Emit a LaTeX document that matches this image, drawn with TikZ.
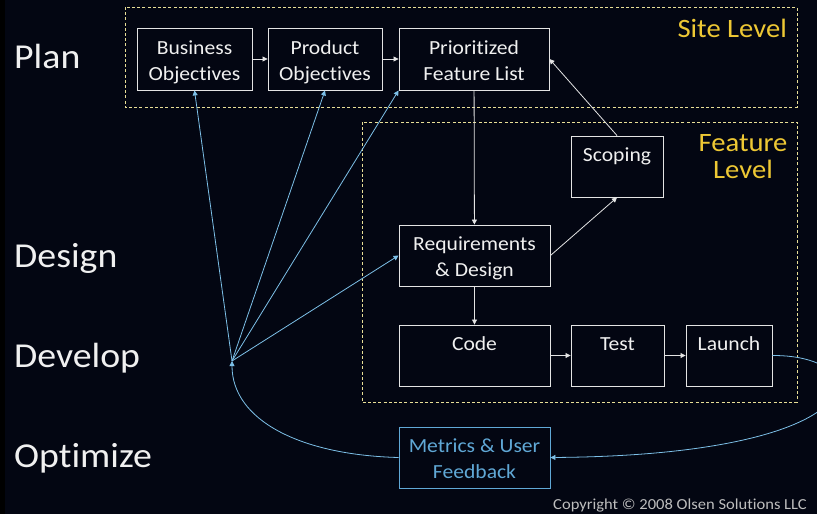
\documentclass[tikz,border=0pt]{standalone}
\usepackage{fontspec}
\setmainfont{Carlito}[Ligatures={NoCommon}, FakeStretch=1.08]
\usepackage{xcolor}
\usetikzlibrary{arrows.meta,calc}
\definecolor{slidebg}{RGB}{3,6,18}
\definecolor{boxline}{RGB}{228,228,228}
\definecolor{leveltext}{RGB}{238,200,52}
\definecolor{levelline}{RGB}{232,222,150}
\definecolor{loopblue}{RGB}{125,192,232}
\definecolor{metricblue}{RGB}{96,168,214}
\definecolor{notegray}{RGB}{190,190,190}
\newcommand{\topgap}{\rule{0pt}{21pt}}
\newcommand{\lowgap}{\rule[-5pt]{0pt}{5pt}}
\tikzset{
	stage/.style={
			draw=boxline, line width=0.9pt, text=white!94!black, align=center,
			font=\fontsize{20}{26}\selectfont, inner sep=0pt
		},
	levelbox/.style={draw=levelline, line width=0.9pt, dash pattern=on 3pt off 2.2pt},
	leveltitle/.style={text=leveltext, align=center, font=\fontsize{26.5}{27}\selectfont, inner sep=0pt},
	phase/.style={text=white!94!black, anchor=base west, font=\fontsize{35}{38}\selectfont, inner sep=0pt},
	flow/.style={draw=boxline, line width=0.8pt, -{Triangle[length=5pt,width=5pt]}},
	feedback/.style={draw=loopblue, line width=0.8pt, -{Triangle[length=5pt,width=5pt]}}
}

\begin{document}
\begin{tikzpicture}[x=1pt,y=-1pt]
        \useasboundingbox (0,0) rectangle (817,514);
        \fill[slidebg] (0,0) rectangle (817,514);
        \fill[black] (0,0) rectangle (5,514);
        % phases on the left
        \node[phase] (plan) at (14,68) {Plan};
        \node[phase] (design) at (14,267) {Design};
        \node[phase] (develop) at (14,367) {Develop};
        \node[phase] (optimize) at (14,467) {Optimize};
        % the two levels
        \draw[levelbox] (125,7) rectangle (797,107);
        \draw[levelbox] (362,122) rectangle (797,402);
        \node[leveltitle, anchor=base east] (site_lvl) at (787,37) {Site Level};
        \node[leveltitle] (feat_lvl) at (743,157) {Feature\\Level};
        % boxes
        \node[stage, minimum width=115pt, minimum height=62pt] (biz_obj) at (194.5,59) {\topgap Business\\Objectives\lowgap};
        \node[stage, minimum width=114pt, minimum height=62pt] (prod_obj) at (325,59) {\topgap Product\\Objectives\lowgap};
        \node[stage, minimum width=150pt, minimum height=62pt] (feat_list) at (474,59) {\topgap Prioritized\\Feature List\lowgap};
        \node[stage, minimum width=92pt, minimum height=61pt] (scoping) at (617,166.5) {\topgap Scoping\\\lowgap};
        \node[stage, minimum width=151pt, minimum height=61pt] (req_design) at (474.5,255.5) {\topgap Requirements\\\& Design\lowgap};
        \node[stage, minimum width=151pt, minimum height=61pt] (code) at (474.5,355.5) {\topgap Code\\\lowgap};
        \node[stage, minimum width=93pt, minimum height=61pt] (test) at (617.5,355.5) {\topgap Test\\\lowgap};
        \node[stage, minimum width=86pt, minimum height=61pt] (launch) at (729,355.5) {\topgap Launch\\\lowgap};
        \node[stage, draw=metricblue, text=metricblue, minimum width=151pt, minimum height=61pt] (metrics) at (474.5,457.5) {\topgap Metrics \& User\\Feedback\lowgap};
        \coordinate (hub) at (232,361);
        % forward flow
        \draw[flow] (biz_obj) -- (prod_obj);
        \draw[flow] (prod_obj) -- (feat_list);
        \draw[flow] (feat_list) -- (req_design);
        \draw[flow] (req_design.east) -- (scoping.south);
        \draw[flow] (scoping.north) -- (feat_list.east);
        \draw[flow] (req_design) -- (code);
        \draw[flow] (code) -- (test);
        \draw[flow] (test) -- (launch);
        % feedback loop
        \draw[feedback] (launch.east) .. controls (880,355) and (880,455) .. (metrics.east);
        \draw[feedback] (metrics.west) .. controls (300,455) and (232,420) .. (hub);
        \draw[feedback] (hub) -- (biz_obj.south);
        \draw[feedback] (hub) -- (prod_obj.south);
        \draw[feedback] (hub) -- (feat_list.south west);
        \draw[feedback] (hub) -- (req_design.west);
        \node[text=notegray, anchor=base east, font=\fontsize{15.3}{17}\selectfont, inner sep=0pt] (note) at (807,509) {Copyright © 2008 Olsen Solutions LLC};
    \end{tikzpicture}
\end{document}
